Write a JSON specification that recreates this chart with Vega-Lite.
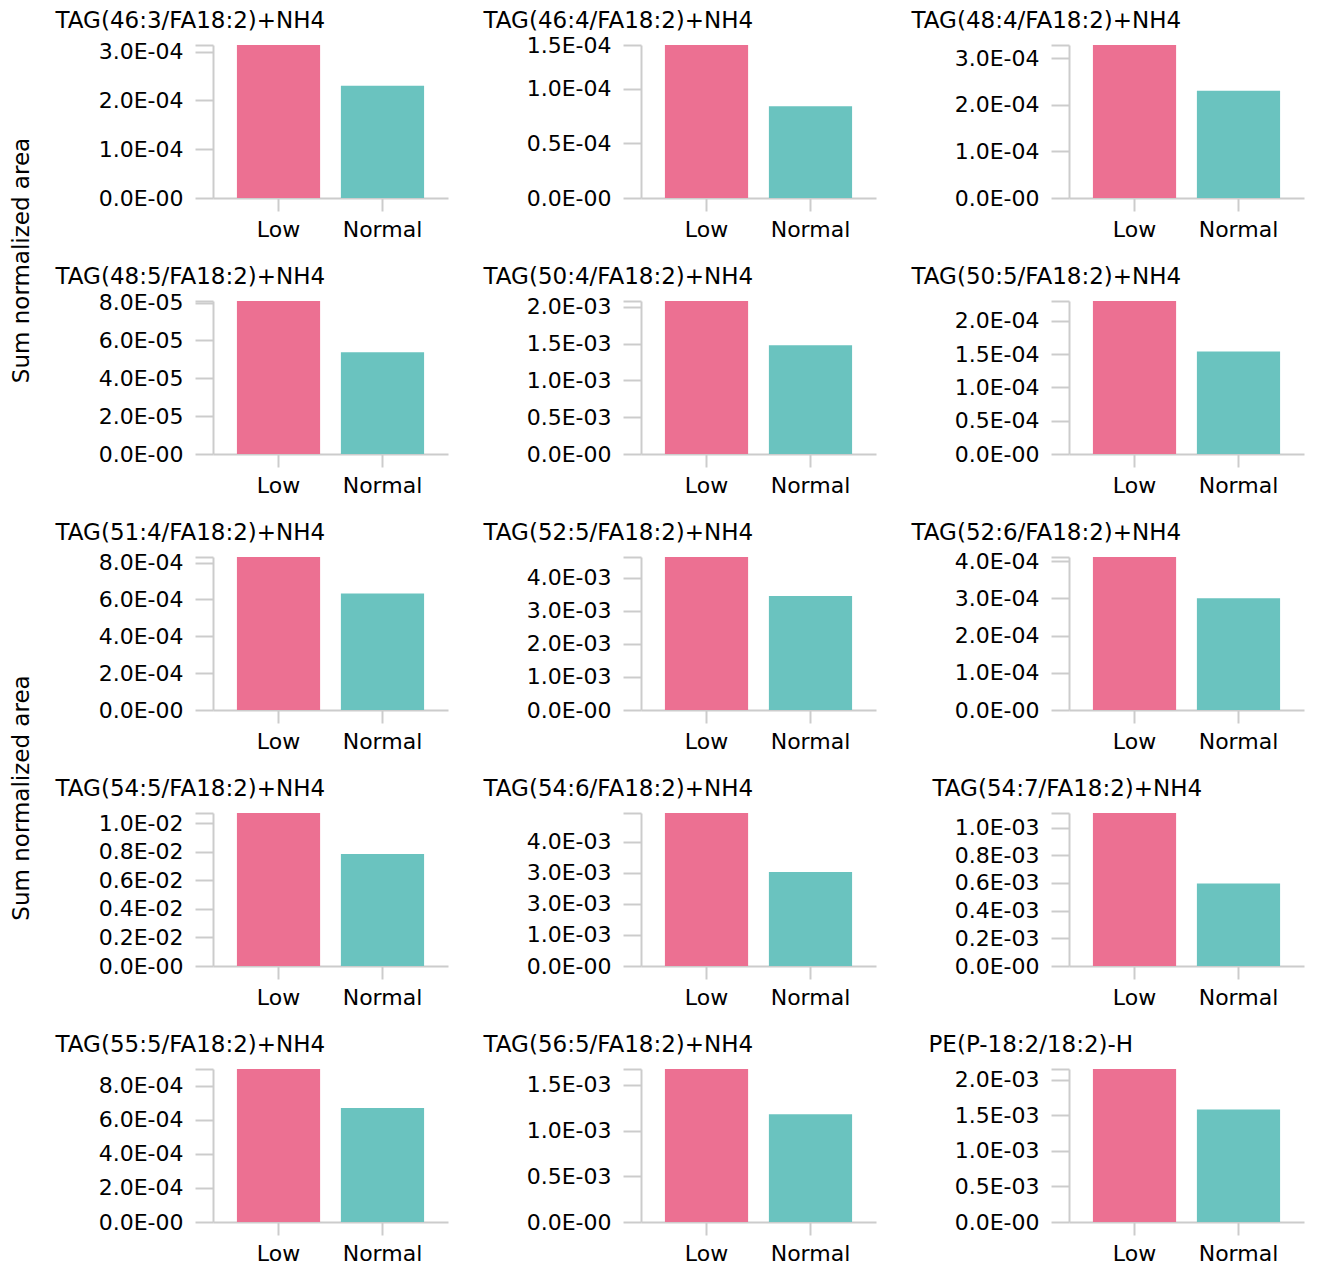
{
  "$schema": "https://vega.github.io/schema/vega-lite/v6.json",
  "background": "white",
  "padding": {"left": 10, "top": 9, "right": 5, "bottom": 0},
  "data": {"values": [
    {"p": 1, "lipid": "TAG(46:3/FA18:2)+NH4", "group": "Low", "value": 0.0003135},
    {"p": 1, "lipid": "TAG(46:3/FA18:2)+NH4", "group": "Normal", "value": 0.000230},
    {"p": 2, "lipid": "TAG(46:4/FA18:2)+NH4", "group": "Low", "value": 0.000140},
    {"p": 2, "lipid": "TAG(46:4/FA18:2)+NH4", "group": "Normal", "value": 0.000084},
    {"p": 3, "lipid": "TAG(48:4/FA18:2)+NH4", "group": "Low", "value": 0.000328},
    {"p": 3, "lipid": "TAG(48:4/FA18:2)+NH4", "group": "Normal", "value": 0.000230},
    {"p": 4, "lipid": "TAG(48:5/FA18:2)+NH4", "group": "Low", "value": 0.0000808},
    {"p": 4, "lipid": "TAG(48:5/FA18:2)+NH4", "group": "Normal", "value": 0.0000538},
    {"p": 5, "lipid": "TAG(50:4/FA18:2)+NH4", "group": "Low", "value": 0.00208},
    {"p": 5, "lipid": "TAG(50:4/FA18:2)+NH4", "group": "Normal", "value": 0.00148},
    {"p": 6, "lipid": "TAG(50:5/FA18:2)+NH4", "group": "Low", "value": 0.000230},
    {"p": 6, "lipid": "TAG(50:5/FA18:2)+NH4", "group": "Normal", "value": 0.000154},
    {"p": 7, "lipid": "TAG(51:4/FA18:2)+NH4", "group": "Low", "value": 0.00083},
    {"p": 7, "lipid": "TAG(51:4/FA18:2)+NH4", "group": "Normal", "value": 0.000632},
    {"p": 8, "lipid": "TAG(52:5/FA18:2)+NH4", "group": "Low", "value": 0.00463},
    {"p": 8, "lipid": "TAG(52:5/FA18:2)+NH4", "group": "Normal", "value": 0.00345},
    {"p": 9, "lipid": "TAG(52:6/FA18:2)+NH4", "group": "Low", "value": 0.000411},
    {"p": 9, "lipid": "TAG(52:6/FA18:2)+NH4", "group": "Normal", "value": 0.000300},
    {"p": 10, "lipid": "TAG(54:5/FA18:2)+NH4", "group": "Low", "value": 0.0107},
    {"p": 10, "lipid": "TAG(54:5/FA18:2)+NH4", "group": "Normal", "value": 0.00783},
    {"p": 11, "lipid": "TAG(54:6/FA18:2)+NH4", "group": "Low", "value": 0.00492},
    {"p": 11, "lipid": "TAG(54:6/FA18:2)+NH4", "group": "Normal", "value": 0.00302},
    {"p": 12, "lipid": "TAG(54:7/FA18:2)+NH4", "group": "Low", "value": 0.001106},
    {"p": 12, "lipid": "TAG(54:7/FA18:2)+NH4", "group": "Normal", "value": 0.000597},
    {"p": 13, "lipid": "TAG(55:5/FA18:2)+NH4", "group": "Low", "value": 0.000897},
    {"p": 13, "lipid": "TAG(55:5/FA18:2)+NH4", "group": "Normal", "value": 0.000669},
    {"p": 14, "lipid": "TAG(56:5/FA18:2)+NH4", "group": "Low", "value": 0.001675},
    {"p": 14, "lipid": "TAG(56:5/FA18:2)+NH4", "group": "Normal", "value": 0.00118},
    {"p": 15, "lipid": "PE(P-18:2/18:2)-H", "group": "Low", "value": 0.00215},
    {"p": 15, "lipid": "PE(P-18:2/18:2)-H", "group": "Normal", "value": 0.00158}
  ]},
  "columns": 3,
  "bounds": "flush",
  "spacing": {"row": 103, "column": 193},
  "concat": [
    {"width": 235, "height": 153, "transform": [{"filter": {"field": "p", "equal": 1}}], "mark": "bar",
     "encoding": {
      "x": {"field": "group", "type": "nominal", "scale": {"paddingInner": 0.2, "paddingOuter": 0.23}, "axis": {"title": "Sum normalized area", "titleX": -191.5, "titleY": 62, "titleAngle": 270, "titleAlign": "center", "titleBaseline": "middle"}},
      "y": {"field": "value", "type": "quantitative", "scale": {"domain": [0, 0.0003135], "nice": false}, "axis": {"title": "TAG(46:3/FA18:2)+NH4", "titleX": -158, "titleY": -18, "values": [0, 0.0001, 0.0002, 0.0003, 0.0003135], "labelExpr": "['0.0E-00','1.0E-04','2.0E-04','3.0E-04',''][indexof([0,0.0001,0.0002,0.0003,0.0003135],datum.value)]"}},
      "color": {"field": "group", "type": "nominal", "scale": {"domain": ["Low", "Normal"], "range": ["#EC7092", "#6AC3BF"]}, "legend": null}}},
    {"width": 235, "height": 153, "transform": [{"filter": {"field": "p", "equal": 2}}], "mark": "bar",
     "encoding": {
      "x": {"field": "group", "type": "nominal", "scale": {"paddingInner": 0.2, "paddingOuter": 0.23}, "axis": {"title": null}},
      "y": {"field": "value", "type": "quantitative", "scale": {"domain": [0, 0.00014], "nice": false}, "axis": {"title": "TAG(46:4/FA18:2)+NH4", "titleX": -158, "titleY": -18, "values": [0, 0.00005, 0.0001, 0.00014], "labelExpr": "['0.0E-00','0.5E-04','1.0E-04','1.5E-04'][indexof([0,0.00005,0.0001,0.00014],datum.value)]"}},
      "color": {"field": "group", "type": "nominal", "scale": {"domain": ["Low", "Normal"], "range": ["#EC7092", "#6AC3BF"]}, "legend": null}}},
    {"width": 235, "height": 153, "transform": [{"filter": {"field": "p", "equal": 3}}], "mark": "bar",
     "encoding": {
      "x": {"field": "group", "type": "nominal", "scale": {"paddingInner": 0.2, "paddingOuter": 0.23}, "axis": {"title": null}},
      "y": {"field": "value", "type": "quantitative", "scale": {"domain": [0, 0.000328], "nice": false}, "axis": {"title": "TAG(48:4/FA18:2)+NH4", "titleX": -158, "titleY": -18, "values": [0, 0.0001, 0.0002, 0.0003, 0.000328], "labelExpr": "['0.0E-00','1.0E-04','2.0E-04','3.0E-04',''][indexof([0,0.0001,0.0002,0.0003,0.000328],datum.value)]"}},
      "color": {"field": "group", "type": "nominal", "scale": {"domain": ["Low", "Normal"], "range": ["#EC7092", "#6AC3BF"]}, "legend": null}}},
    {"width": 235, "height": 153, "transform": [{"filter": {"field": "p", "equal": 4}}], "mark": "bar",
     "encoding": {
      "x": {"field": "group", "type": "nominal", "scale": {"paddingInner": 0.2, "paddingOuter": 0.23}, "axis": {"title": null}},
      "y": {"field": "value", "type": "quantitative", "scale": {"domain": [0, 0.0000808], "nice": false}, "axis": {"title": "TAG(48:5/FA18:2)+NH4", "titleX": -158, "titleY": -18, "values": [0, 0.00002, 0.00004, 0.00006, 0.00008, 0.0000808], "labelExpr": "['0.0E-00','2.0E-05','4.0E-05','6.0E-05','8.0E-05',''][indexof([0,0.00002,0.00004,0.00006,0.00008,0.0000808],datum.value)]"}},
      "color": {"field": "group", "type": "nominal", "scale": {"domain": ["Low", "Normal"], "range": ["#EC7092", "#6AC3BF"]}, "legend": null}}},
    {"width": 235, "height": 153, "transform": [{"filter": {"field": "p", "equal": 5}}], "mark": "bar",
     "encoding": {
      "x": {"field": "group", "type": "nominal", "scale": {"paddingInner": 0.2, "paddingOuter": 0.23}, "axis": {"title": null}},
      "y": {"field": "value", "type": "quantitative", "scale": {"domain": [0, 0.00208], "nice": false}, "axis": {"title": "TAG(50:4/FA18:2)+NH4", "titleX": -158, "titleY": -18, "values": [0, 0.0005, 0.001, 0.0015, 0.002, 0.00208], "labelExpr": "['0.0E-00','0.5E-03','1.0E-03','1.5E-03','2.0E-03',''][indexof([0,0.0005,0.001,0.0015,0.002,0.00208],datum.value)]"}},
      "color": {"field": "group", "type": "nominal", "scale": {"domain": ["Low", "Normal"], "range": ["#EC7092", "#6AC3BF"]}, "legend": null}}},
    {"width": 235, "height": 153, "transform": [{"filter": {"field": "p", "equal": 6}}], "mark": "bar",
     "encoding": {
      "x": {"field": "group", "type": "nominal", "scale": {"paddingInner": 0.2, "paddingOuter": 0.23}, "axis": {"title": null}},
      "y": {"field": "value", "type": "quantitative", "scale": {"domain": [0, 0.00023], "nice": false}, "axis": {"title": "TAG(50:5/FA18:2)+NH4", "titleX": -158, "titleY": -18, "values": [0, 0.00005, 0.0001, 0.00015, 0.0002, 0.00023], "labelExpr": "['0.0E-00','0.5E-04','1.0E-04','1.5E-04','2.0E-04',''][indexof([0,0.00005,0.0001,0.00015,0.0002,0.00023],datum.value)]"}},
      "color": {"field": "group", "type": "nominal", "scale": {"domain": ["Low", "Normal"], "range": ["#EC7092", "#6AC3BF"]}, "legend": null}}},
    {"width": 235, "height": 153, "transform": [{"filter": {"field": "p", "equal": 7}}], "mark": "bar",
     "encoding": {
      "x": {"field": "group", "type": "nominal", "scale": {"paddingInner": 0.2, "paddingOuter": 0.23}, "axis": {"title": "Sum normalized area", "titleX": -191.5, "titleY": 87.5, "titleAngle": 270, "titleAlign": "center", "titleBaseline": "middle"}},
      "y": {"field": "value", "type": "quantitative", "scale": {"domain": [0, 0.00083], "nice": false}, "axis": {"title": "TAG(51:4/FA18:2)+NH4", "titleX": -158, "titleY": -18, "values": [0, 0.0002, 0.0004, 0.0006, 0.0008, 0.00083], "labelExpr": "['0.0E-00','2.0E-04','4.0E-04','6.0E-04','8.0E-04',''][indexof([0,0.0002,0.0004,0.0006,0.0008,0.00083],datum.value)]"}},
      "color": {"field": "group", "type": "nominal", "scale": {"domain": ["Low", "Normal"], "range": ["#EC7092", "#6AC3BF"]}, "legend": null}}},
    {"width": 235, "height": 153, "transform": [{"filter": {"field": "p", "equal": 8}}], "mark": "bar",
     "encoding": {
      "x": {"field": "group", "type": "nominal", "scale": {"paddingInner": 0.2, "paddingOuter": 0.23}, "axis": {"title": null}},
      "y": {"field": "value", "type": "quantitative", "scale": {"domain": [0, 0.00463], "nice": false}, "axis": {"title": "TAG(52:5/FA18:2)+NH4", "titleX": -158, "titleY": -18, "values": [0, 0.001, 0.002, 0.003, 0.004, 0.00463], "labelExpr": "['0.0E-00','1.0E-03','2.0E-03','3.0E-03','4.0E-03',''][indexof([0,0.001,0.002,0.003,0.004,0.00463],datum.value)]"}},
      "color": {"field": "group", "type": "nominal", "scale": {"domain": ["Low", "Normal"], "range": ["#EC7092", "#6AC3BF"]}, "legend": null}}},
    {"width": 235, "height": 153, "transform": [{"filter": {"field": "p", "equal": 9}}], "mark": "bar",
     "encoding": {
      "x": {"field": "group", "type": "nominal", "scale": {"paddingInner": 0.2, "paddingOuter": 0.23}, "axis": {"title": null}},
      "y": {"field": "value", "type": "quantitative", "scale": {"domain": [0, 0.000411], "nice": false}, "axis": {"title": "TAG(52:6/FA18:2)+NH4", "titleX": -158, "titleY": -18, "values": [0, 0.0001, 0.0002, 0.0003, 0.0004, 0.000411], "labelExpr": "['0.0E-00','1.0E-04','2.0E-04','3.0E-04','4.0E-04',''][indexof([0,0.0001,0.0002,0.0003,0.0004,0.000411],datum.value)]"}},
      "color": {"field": "group", "type": "nominal", "scale": {"domain": ["Low", "Normal"], "range": ["#EC7092", "#6AC3BF"]}, "legend": null}}},
    {"width": 235, "height": 153, "transform": [{"filter": {"field": "p", "equal": 10}}], "mark": "bar",
     "encoding": {
      "x": {"field": "group", "type": "nominal", "scale": {"paddingInner": 0.2, "paddingOuter": 0.23}, "axis": {"title": null}},
      "y": {"field": "value", "type": "quantitative", "scale": {"domain": [0, 0.0107], "nice": false}, "axis": {"title": "TAG(54:5/FA18:2)+NH4", "titleX": -158, "titleY": -18, "values": [0, 0.002, 0.004, 0.006, 0.008, 0.01, 0.0107], "labelExpr": "['0.0E-00','0.2E-02','0.4E-02','0.6E-02','0.8E-02','1.0E-02',''][indexof([0,0.002,0.004,0.006,0.008,0.01,0.0107],datum.value)]"}},
      "color": {"field": "group", "type": "nominal", "scale": {"domain": ["Low", "Normal"], "range": ["#EC7092", "#6AC3BF"]}, "legend": null}}},
    {"width": 235, "height": 153, "transform": [{"filter": {"field": "p", "equal": 11}}], "mark": "bar",
     "encoding": {
      "x": {"field": "group", "type": "nominal", "scale": {"paddingInner": 0.2, "paddingOuter": 0.23}, "axis": {"title": null}},
      "y": {"field": "value", "type": "quantitative", "scale": {"domain": [0, 0.00492], "nice": false}, "axis": {"title": "TAG(54:6/FA18:2)+NH4", "titleX": -158, "titleY": -18, "values": [0, 0.001, 0.002, 0.003, 0.004, 0.00492], "labelExpr": "['0.0E-00','1.0E-03','3.0E-03','3.0E-03','4.0E-03',''][indexof([0,0.001,0.002,0.003,0.004,0.00492],datum.value)]"}},
      "color": {"field": "group", "type": "nominal", "scale": {"domain": ["Low", "Normal"], "range": ["#EC7092", "#6AC3BF"]}, "legend": null}}},
    {"width": 235, "height": 153, "transform": [{"filter": {"field": "p", "equal": 12}}], "mark": "bar",
     "encoding": {
      "x": {"field": "group", "type": "nominal", "scale": {"paddingInner": 0.2, "paddingOuter": 0.23}, "axis": {"title": null}},
      "y": {"field": "value", "type": "quantitative", "scale": {"domain": [0, 0.001106], "nice": false}, "axis": {"title": "TAG(54:7/FA18:2)+NH4", "titleX": -137, "titleY": -18, "values": [0, 0.0002, 0.0004, 0.0006, 0.0008, 0.001, 0.001106], "labelExpr": "['0.0E-00','0.2E-03','0.4E-03','0.6E-03','0.8E-03','1.0E-03',''][indexof([0,0.0002,0.0004,0.0006,0.0008,0.001,0.001106],datum.value)]"}},
      "color": {"field": "group", "type": "nominal", "scale": {"domain": ["Low", "Normal"], "range": ["#EC7092", "#6AC3BF"]}, "legend": null}}},
    {"width": 235, "height": 153, "transform": [{"filter": {"field": "p", "equal": 13}}], "mark": "bar",
     "encoding": {
      "x": {"field": "group", "type": "nominal", "scale": {"paddingInner": 0.2, "paddingOuter": 0.23}, "axis": {"title": null}},
      "y": {"field": "value", "type": "quantitative", "scale": {"domain": [0, 0.000897], "nice": false}, "axis": {"title": "TAG(55:5/FA18:2)+NH4", "titleX": -158, "titleY": -18, "values": [0, 0.0002, 0.0004, 0.0006, 0.0008, 0.000897], "labelExpr": "['0.0E-00','2.0E-04','4.0E-04','6.0E-04','8.0E-04',''][indexof([0,0.0002,0.0004,0.0006,0.0008,0.000897],datum.value)]"}},
      "color": {"field": "group", "type": "nominal", "scale": {"domain": ["Low", "Normal"], "range": ["#EC7092", "#6AC3BF"]}, "legend": null}}},
    {"width": 235, "height": 153, "transform": [{"filter": {"field": "p", "equal": 14}}], "mark": "bar",
     "encoding": {
      "x": {"field": "group", "type": "nominal", "scale": {"paddingInner": 0.2, "paddingOuter": 0.23}, "axis": {"title": null}},
      "y": {"field": "value", "type": "quantitative", "scale": {"domain": [0, 0.001675], "nice": false}, "axis": {"title": "TAG(56:5/FA18:2)+NH4", "titleX": -158, "titleY": -18, "values": [0, 0.0005, 0.001, 0.0015, 0.001675], "labelExpr": "['0.0E-00','0.5E-03','1.0E-03','1.5E-03',''][indexof([0,0.0005,0.001,0.0015,0.001675],datum.value)]"}},
      "color": {"field": "group", "type": "nominal", "scale": {"domain": ["Low", "Normal"], "range": ["#EC7092", "#6AC3BF"]}, "legend": null}}},
    {"width": 235, "height": 153, "transform": [{"filter": {"field": "p", "equal": 15}}], "mark": "bar",
     "encoding": {
      "x": {"field": "group", "type": "nominal", "scale": {"paddingInner": 0.2, "paddingOuter": 0.23}, "axis": {"title": null}},
      "y": {"field": "value", "type": "quantitative", "scale": {"domain": [0, 0.00215], "nice": false}, "axis": {"title": "PE(P-18:2/18:2)-H", "titleX": -141, "titleY": -18, "values": [0, 0.0005, 0.001, 0.0015, 0.002, 0.00215], "labelExpr": "['0.0E-00','0.5E-03','1.0E-03','1.5E-03','2.0E-03',''][indexof([0,0.0005,0.001,0.0015,0.002,0.00215],datum.value)]"}},
      "color": {"field": "group", "type": "nominal", "scale": {"domain": ["Low", "Normal"], "range": ["#EC7092", "#6AC3BF"]}, "legend": null}}}
  ],
  "config": {
    "view": {"stroke": null},
    "font": "DejaVu Sans",
    "axis": {
      "grid": false,
      "domainColor": "#cccccc", "domainWidth": 2,
      "tickColor": "#cccccc", "tickWidth": 2,
      "labelFont": "DejaVu Sans", "labelFontSize": 22, "labelColor": "#000000",
      "labelOverlap": false,
      "titleFont": "DejaVu Sans", "titleFontSize": 23, "titleFontWeight": "normal", "titleColor": "#000000"
    },
    "axisY": {"tickSize": 18, "labelPadding": 12, "titleAngle": 0, "titleAlign": "left", "titleBaseline": "alphabetic"},
    "axisX": {"tickSize": 13, "labelPadding": 8, "labelAngle": 0}
  }
}
